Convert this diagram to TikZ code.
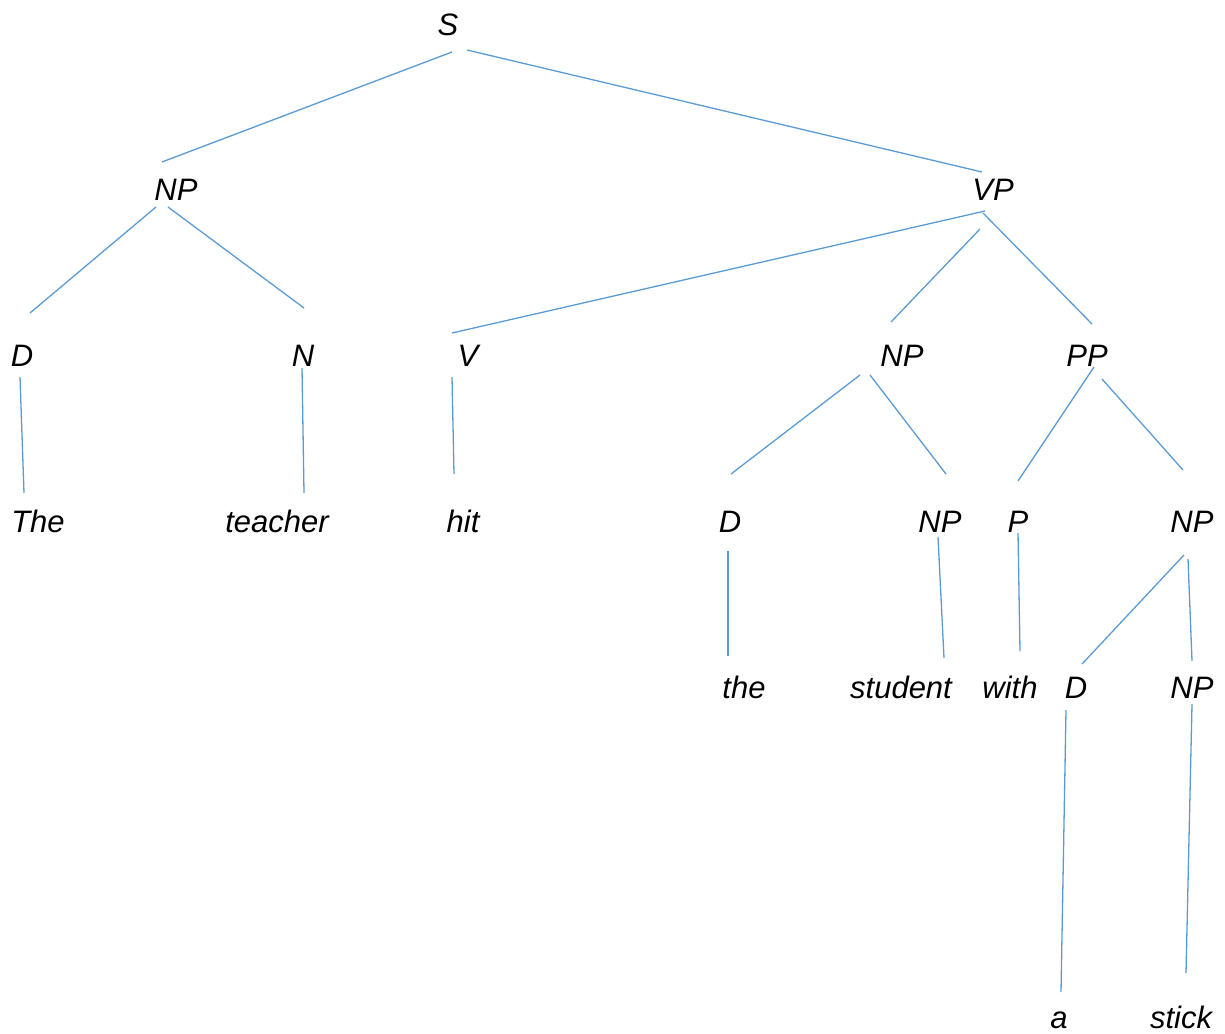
\documentclass[tikz,border=0pt]{standalone}
\usepackage{fontspec}
\setmainfont{Liberation Sans}
\definecolor{branchblue}{RGB}{91,155,213}
\tikzset{
    cat/.style={anchor=base, inner sep=0pt, font=\fontsize{15.5}{18}\selectfont\itshape},
    branch/.style={draw=branchblue, line width=0.65pt}
}
\begin{document}
\begin{tikzpicture}[x=0.5pt, y=-0.5pt]
                \useasboundingbox (0,0) rectangle (1225,1033);

                \node[cat] (s) at (448,35) {S};
                \node[cat] (np) at (176,200) {NP};
                \node[cat] (vp) at (993,200) {VP};
                \node[cat] (d) at (22,366) {D};
                \node[cat] (n) at (303,366) {N};
                \node[cat] (v) at (468,366) {V};
                \node[cat] (npa) at (902,366) {NP};
                \node[cat] (pp) at (1087,366) {PP};
                \node[cat] (thea) at (38,532) {The};
                \node[cat] (teacher) at (277,532) {teacher};
                \node[cat] (hit) at (463,532) {hit};
                \node[cat] (da) at (730,532) {D};
                \node[cat] (npb) at (940,532) {NP};
                \node[cat] (p) at (1018,532) {P};
                \node[cat] (npc) at (1192,532) {NP};
                \node[cat] (theb) at (744,698) {the};
                \node[cat] (student) at (901,698) {student};
                \node[cat] (with) at (1010,698) {with};
                \node[cat] (db) at (1076,698) {D};
                \node[cat] (npd) at (1192,698) {NP};
                \node[cat] (a) at (1059,1028) {a};
                \node[cat] (stick) at (1181,1028) {stick};

                \draw[branch] ([shift={(4,17)}]s.base) -- ([shift={(-14,-38)}]np.base);
                \draw[branch] ([shift={(19,15)}]s.base) -- ([shift={(-11,-28)}]vp.base);
                \draw[branch] ([shift={(-20,7)}]np.base) -- ([shift={(8,-53)}]d.base);
                \draw[branch] ([shift={(-8,7)}]np.base) -- ([shift={(1,-58)}]n.base);
                \draw[branch] ([shift={(-8,11)}]vp.base) -- ([shift={(-16,-33)}]v.base);
                \draw[branch] ([shift={(-13,29)}]vp.base) -- ([shift={(-11,-44)}]npa.base);
                \draw[branch] ([shift={(-10,13)}]vp.base) -- ([shift={(5,-42)}]pp.base);
                \draw[branch] ([shift={(-2,11)}]d.base) -- ([shift={(-14,-39)}]thea.base);
                \draw[branch] ([shift={(-1,2)}]n.base) -- ([shift={(27,-39)}]teacher.base);
                \draw[branch] ([shift={(-16,11)}]v.base) -- ([shift={(-9,-58)}]hit.base);
                \draw[branch] ([shift={(-42,9)}]npa.base) -- ([shift={(1,-58)}]da.base);
                \draw[branch] ([shift={(-32,9)}]npa.base) -- ([shift={(6,-58)}]npb.base);
                \draw[branch] ([shift={(7,1)}]pp.base) -- ([shift={(0,-51)}]p.base);
                \draw[branch] ([shift={(15,13)}]pp.base) -- ([shift={(-9,-62)}]npc.base);
                \draw[branch] ([shift={(-2,19)}]da.base) -- ([shift={(-16,-42)}]theb.base);
                \draw[branch] ([shift={(-2,5)}]npb.base) -- ([shift={(43,-40)}]student.base);
                \draw[branch] ([shift={(0,1)}]p.base) -- ([shift={(10,-47)}]with.base);
                \draw[branch] ([shift={(-8,23)}]npc.base) -- ([shift={(6,-34)}]db.base);
                \draw[branch] ([shift={(-4,27)}]npc.base) -- ([shift={(0,-37)}]npd.base);
                \draw[branch] ([shift={(-10,12)}]db.base) -- ([shift={(2,-36)}]a.base);
                \draw[branch] ([shift={(0,6)}]npd.base) -- ([shift={(5,-55)}]stick.base);
\end{tikzpicture}
\end{document}
